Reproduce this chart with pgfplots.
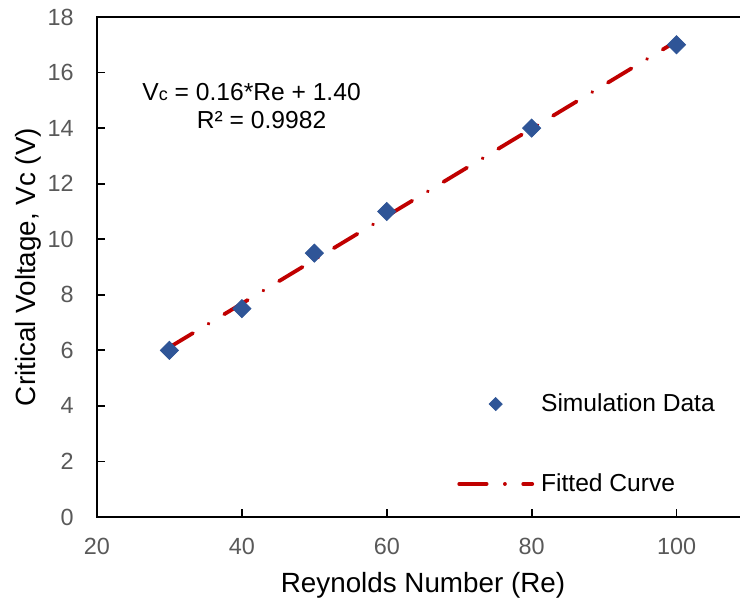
\documentclass[border=0pt]{standalone}
\usepackage{fontspec}
\setmainfont{Liberation Sans}
\usepackage{pgfplots}
\pgfplotsset{compat=1.18}
\definecolor{tickgray}{RGB}{89,89,89}
\definecolor{mblue}{RGB}{47,85,151}
\definecolor{fred}{RGB}{192,0,0}
\pgfplotsset{
  fitline legend/.style={legend image code/.code={\draw[##1] (0bp,0bp) -- (36.5bp,0bp);}},
  marker legend/.style={legend image code/.code={
    \path[draw=none] (0bp,0bp) -- (36.5bp,0bp);
    \path[draw=none, fill=none] plot[only marks, mark=square*, mark size=2.3bp, mark options={rotate=45, draw=mblue, fill=mblue, solid}] coordinates {(18.25bp,0bp)};
  }},
}
\begin{document}
\begin{tikzpicture}
\begin{axis}[
  scale only axis, width=326bp, height=250bp,
  xmin=20, xmax=110, ymin=0, ymax=18,
  xtick={20,40,60,80,100}, ytick={0,2,...,18},
  xtick pos=left, ytick pos=left,
  tick align=inside,
  major tick length=4bp,
  axis line style={black, line width=0.9bp},
  every tick/.style={black, line width=0.9bp},
  /pgf/number format/assume math mode=true,
  ticklabel style={font=\fontsize{11.7bp}{14bp}\selectfont, text=tickgray},
  yticklabel style={inner sep=0pt, anchor=east, xshift=-11.5bp},
  xticklabel style={inner sep=0pt, anchor=north, yshift=-10.5bp},
  xlabel={Reynolds Number (Re)},
  ylabel={Critical Voltage, Vc (V)},
  every axis x label/.style={at={(axis description cs:0.5,-0.1514)}, anchor=base, inner sep=0pt, font=\fontsize{13.9bp}{16bp}\selectfont},
  every axis y label/.style={at={(axis description cs:-0.0951,0.5)}, rotate=90, anchor=base, inner sep=0pt, font=\fontsize{13.9bp}{16bp}\selectfont},
  legend cell align=left,
  legend style={draw=none, fill=none, at={(axis description cs:0.552,0.146)}, anchor=west,
    inner sep=0pt, row sep=29.5bp, column sep=3.5bp,
    nodes={inner sep=0pt, font=\fontsize{12.3bp}{14bp}\selectfont, text=black}},
]
\addplot[only marks, mark=square*, mark size=3.2bp,
  mark options={rotate=45, fill=mblue, draw=mblue},
  marker legend] coordinates {
  (30,6) (40,7.5) (50,9.5) (60,11) (80,14) (100,17)
};
\addlegendentry{Simulation Data}
\addplot[fred, line width=1.9bp, line cap=round,
  dash pattern=on 13.7bp off 9.15bp on 0.01bp off 9.15bp,
  fitline legend] coordinates {
  (30,6.11) (100,17.13)
};
\addlegendentry{Fitted Curve}
\node[anchor=base, inner sep=0pt, font=\fontsize{12.3bp}{14bp}\selectfont] at (axis cs:41.34,14.98) {V{\fontsize{9bp}{9bp}\selectfont c} = 0.16*Re + 1.40};
\node[anchor=base, inner sep=0pt, font=\fontsize{12.3bp}{14bp}\selectfont] at (axis cs:42.72,14.0) {R² = 0.9982};
\coordinate (ll) at (rel axis cs:0,0);
\coordinate (ur) at (rel axis cs:1,1);
\end{axis}
\pgfresetboundingbox
\useasboundingbox ([shift={(-48.5bp,-42bp)}]ll) rectangle ([shift={(-4.5bp,8.5bp)}]ur);
\end{tikzpicture}
\end{document}
